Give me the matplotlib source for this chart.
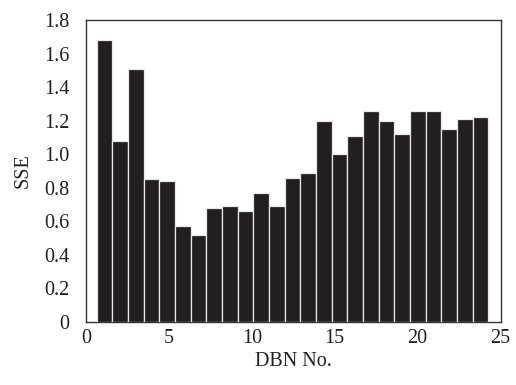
import numpy as np
import matplotlib
matplotlib.use('Agg')
import matplotlib.pyplot as plt
from matplotlib.ticker import FixedLocator, FuncFormatter

plt.rcParams['font.family'] = ['Liberation Serif', 'DejaVu Serif']

# SSE of each DBN
dbn_no = np.arange(1, 26)
sse = [1.68, 1.08, 1.51, 0.85, 0.84, 0.57, 0.52, 0.68, 0.69, 0.66,
       0.77, 0.69, 0.86, 0.89, 1.20, 1.00, 1.11, 1.26, 1.20, 1.12,
       1.26, 1.26, 1.15, 1.21, 1.22]
x_ticks = [0, 5, 10, 15, 20, 25]
y_ticks = [0, 0.2, 0.4, 0.6, 0.8, 1.0, 1.2, 1.4, 1.6, 1.8]

fig = plt.figure(figsize=(5.16, 3.85), dpi=100)
ax = fig.add_axes([0.167, 0.164, 0.803, 0.784])

# bars on a hidden category axis (like the Excel chart), value axis shown below
axb = ax.twiny()
axb.bar(dbn_no, sse, width=1.0, color='#231f20', edgecolor='#e8e8e8', linewidth=0.9)
axb.set_xlim(-0.18, 26.29)
axb.set_ylim(0, 1.8)
axb.axis('off')

ax.set_xlim(0, 25)
ax.set_ylim(0, 1.8)
ax.xaxis.set_major_locator(FixedLocator(x_ticks))
ax.yaxis.set_major_locator(FixedLocator(y_ticks))
ax.yaxis.set_major_formatter(FuncFormatter(lambda v, p: '0' if v == 0 else '%.1f' % v))
ax.tick_params(length=0, labelsize=14.5, colors='#231f20')
ax.tick_params(axis='x', pad=5)
ax.tick_params(axis='y', pad=12)
for s in ax.spines.values():
    s.set_color('#333333')
    s.set_linewidth(1.0)
ax.set_xlabel('DBN No.', fontsize=14.5, color='#231f20', labelpad=3)
ax.set_ylabel('SSE', fontsize=14.5, color='#231f20', labelpad=8)

fig.savefig('out.png', dpi=100)
